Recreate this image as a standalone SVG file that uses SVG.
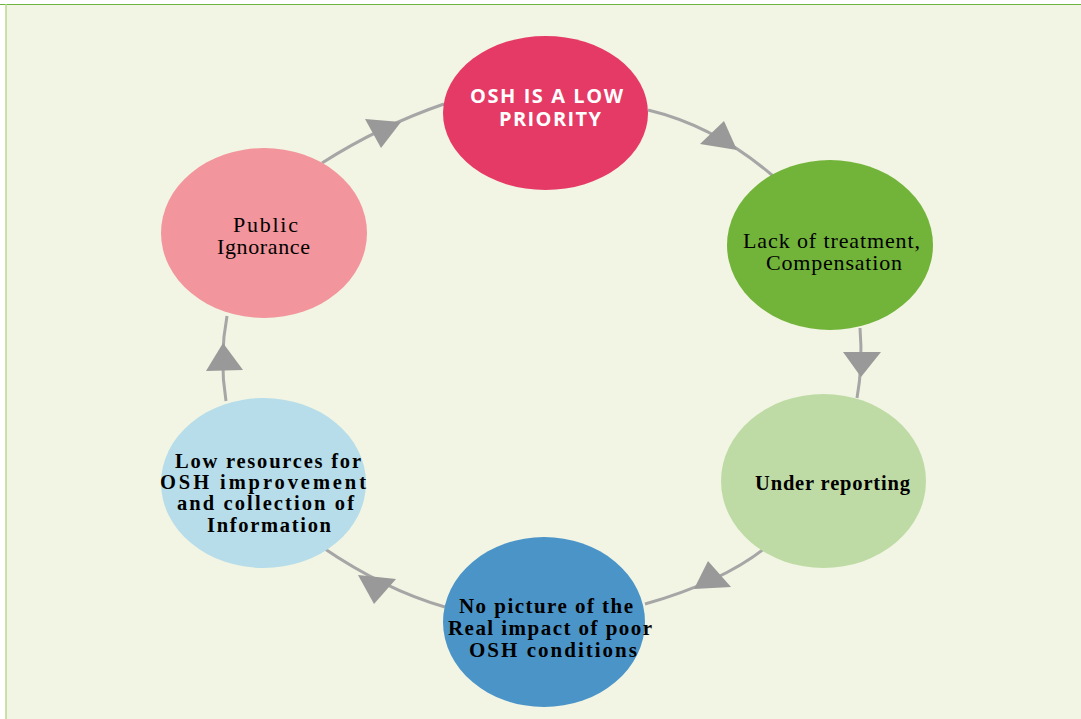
<svg xmlns="http://www.w3.org/2000/svg" width="1081" height="719" viewBox="0 0 1081 719">
  <style>
    .lbl-sans { font-family: "Open Sans", "Liberation Sans", sans-serif; font-weight: bold; fill: #ffffff; text-anchor: middle; }
    .lbl-serif { font-family: "Liberation Serif", "Times New Roman", serif; fill: #000000; text-anchor: middle; }
    .bold { font-weight: bold; }
    .link { fill: none; stroke: #a6a6a6; stroke-width: 3; }
    .head { fill: #999999; }
  </style>

  <!-- page frame -->
  <rect x="0" y="0" width="1081" height="719" fill="#ffffff"/>
  <rect x="6" y="4.5" width="1075" height="714.5" fill="#f2f5e3"/>
  <line x1="0" y1="4.5" x2="1081" y2="4.5" stroke="#6db33f" stroke-width="1.2"/>
  <line x1="6" y1="4" x2="6" y2="719" stroke="#b9d98f" stroke-width="1.5"/>

  <!-- connectors of the cycle -->
  <g id="connectors">
    <path class="link" d="M322,163 Q380,126 444,104"/>
    <polygon class="head" points="401,122 365,119 381,148"/>

    <path class="link" d="M648,110 Q715,126 773,176"/>
    <polygon class="head" points="737,150 724,121 700,144"/>

    <path class="link" d="M860,328 Q863,365 857,398"/>
    <polygon class="head" points="861,377 843,352 881,352"/>

    <path class="link" d="M765,548 Q722,582 645,604"/>
    <polygon class="head" points="694,589 708,561 731,587"/>

    <path class="link" d="M322,547 Q385,590 445,607"/>
    <polygon class="head" points="358,575 396,579 374,604"/>

    <path class="link" d="M226,401 Q219,358 227,316"/>
    <polygon class="head" points="223,343 206,371 243,370"/>
  </g>

  <g id="node-low-priority">
    <ellipse cx="545.5" cy="113" rx="102.5" ry="77" fill="#e63a66"/>
    <text class="lbl-sans" x="546.5" y="103" font-size="20" textLength="153" lengthAdjust="spacing">OSH IS A LOW</text>
    <text class="lbl-sans" x="550" y="126" font-size="20" textLength="102" lengthAdjust="spacing">PRIORITY</text>
  </g>

  <g id="node-lack-treatment">
    <ellipse cx="830" cy="245" rx="103" ry="85" fill="#72b33a"/>
    <text class="lbl-serif" x="831.5" y="248" font-size="22" textLength="177" lengthAdjust="spacing">Lack of treatment,</text>
    <text class="lbl-serif" x="834" y="270" font-size="22" textLength="136" lengthAdjust="spacing">Compensation</text>
  </g>

  <g id="node-under-reporting">
    <ellipse cx="823.5" cy="481" rx="102.5" ry="87" fill="#bfdba5"/>
    <text class="lbl-serif bold" x="832.5" y="490" font-size="20.5" textLength="155" lengthAdjust="spacing">Under reporting</text>
  </g>

  <g id="node-no-picture">
    <ellipse cx="544" cy="622" rx="101" ry="85" fill="#4b94c8"/>
    <text class="lbl-serif bold" x="546" y="613" font-size="21" textLength="174" lengthAdjust="spacing">No picture of the</text>
    <text class="lbl-serif bold" x="550" y="635" font-size="21" textLength="204" lengthAdjust="spacing">Real impact of poor</text>
    <text class="lbl-serif bold" x="553" y="657" font-size="21" textLength="168" lengthAdjust="spacing">OSH conditions</text>
  </g>

  <g id="node-low-resources">
    <ellipse cx="263.5" cy="483" rx="102.5" ry="85" fill="#b6dde9"/>
    <text class="lbl-serif bold" x="268" y="468" font-size="20.5" textLength="186" lengthAdjust="spacing">Low resources for</text>
    <text class="lbl-serif bold" x="263" y="489" font-size="20.5" textLength="206" lengthAdjust="spacing">OSH improvement</text>
    <text class="lbl-serif bold" x="265.5" y="510" font-size="20.5" textLength="177" lengthAdjust="spacing">and collection of</text>
    <text class="lbl-serif bold" x="269" y="532" font-size="20.5" textLength="124" lengthAdjust="spacing">Information</text>
  </g>

  <g id="node-public-ignorance">
    <ellipse cx="264" cy="233" rx="103" ry="85" fill="#f2959c"/>
    <text class="lbl-serif" x="265.5" y="232" font-size="22" textLength="65" lengthAdjust="spacing">Public</text>
    <text class="lbl-serif" x="263.5" y="254" font-size="22" textLength="93" lengthAdjust="spacing">Ignorance</text>
  </g>
</svg>
